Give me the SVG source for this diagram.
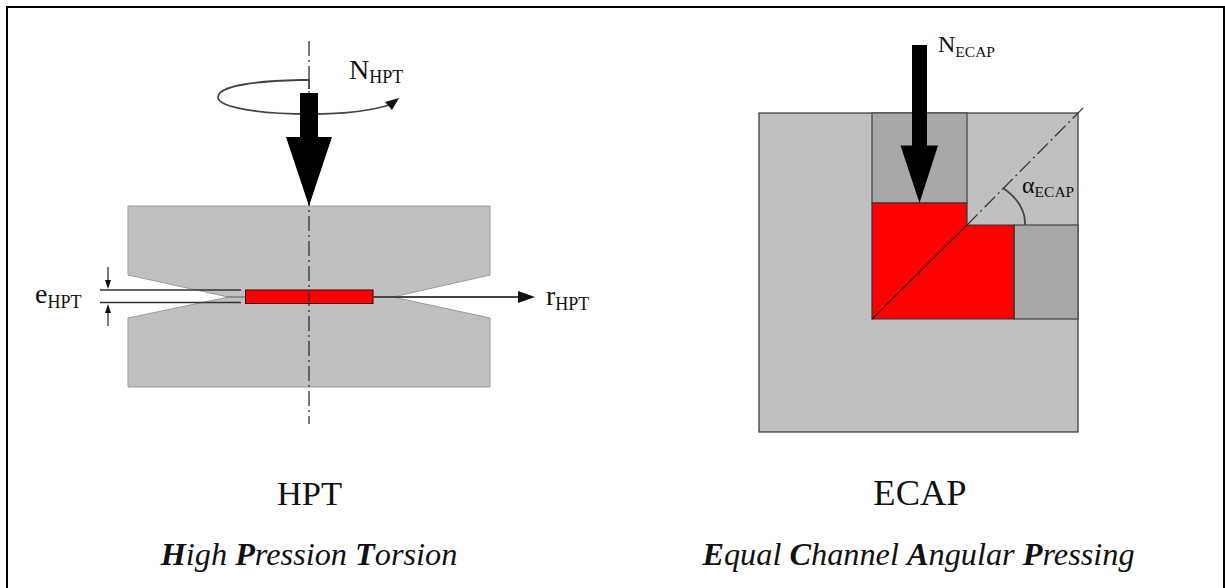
<svg xmlns="http://www.w3.org/2000/svg" width="1225" height="588" viewBox="0 0 1225 588">
<style>
text{font-family:"Liberation Serif","Times New Roman",serif;fill:#111}
.lab{font-size:24px}.sub{font-size:15.5px}
.lab2{font-size:28px}.sub2{font-size:18px}
.cap{font-size:34.5px;text-anchor:middle}
.cap2{font-size:36.5px;text-anchor:middle}
.ital{font-size:32.3px;font-style:italic;text-anchor:middle}
.ital tspan{font-weight:bold}
.die{fill:#c0c0c0;stroke:#9a9a9a;stroke-width:1}
.ln{fill:none;stroke:#333;stroke-width:1.3}
.thick{fill:none;stroke:#444;stroke-width:1.8}
.faint{fill:none;stroke:#888;stroke-width:1.3}
.dash{fill:none;stroke:#333;stroke-width:1.3;stroke-dasharray:15 4 2 4}
.gbox{fill:#a8a8a8;stroke:#444;stroke-width:1.2}
</style>
<rect width="1225" height="588" fill="#fff"/>
<rect x="7" y="7" width="1217" height="590" fill="none" stroke="#000" stroke-width="2"/>
<g id="hpt">
<path class="die" d="M128 206H490V275L395 296.500H226L128 275Z"/>
<path class="die" d="M128 387H490V318L395 297.500H226L128 318Z"/>
<path class="faint" d="M226 297H245"/>
<rect x="245.500" y="290" width="127.500" height="13.500" fill="#f00" stroke="#400" stroke-width="1"/>
<path class="dash" d="M309 41V424"/>
<path class="ln" d="M100 290H241M100 302.500H241"/>
<path class="ln" d="M108 267V283M108 310V326"/>
<path fill="#111" d="M105 280H111L108 289ZM105 313H111L108 304Z"/>
<path class="thick" d="M373 297H520"/>
<path fill="#111" d="M518 291L535 297L518 303Z"/>
<path class="thick" d="M309 89V80H300C255 81 218 86 218 97C218 108 262 114 310 114C345 114 375 110 392 104"/>
<path fill="#111" d="M385 102L399 98L392 110Z"/>
<path fill="#000" d="M300 93H318V137H332L309 206L286 137H300Z"/>
<text class="lab2" x="349" y="79">N<tspan class="sub2" dy="3.500">HPT</tspan></text>
<text class="lab2" x="35" y="303">e<tspan class="sub2" dy="5">HPT</tspan></text>
<text class="lab2" x="546" y="305">r<tspan class="sub2" dy="4.500">HPT</tspan></text>
<text class="cap" x="309.500" y="505">HPT</text>
<text class="ital" x="309" y="565"><tspan>H</tspan>igh <tspan>P</tspan>ression <tspan>T</tspan>orsion</text>
</g>
<g id="ecap">
<rect x="759" y="113" width="319" height="319" fill="#c0c0c0" stroke="#333" stroke-width="1.2"/>
<rect class="gbox" x="872" y="113" width="95" height="90"/>
<rect class="gbox" x="1014" y="225" width="64" height="94"/>
<path d="M872 203H967V225H1014V319H872Z" fill="#f00" stroke="#333" stroke-width="1.2"/>
<path d="M872 319L967 225" stroke="#500" stroke-width="1.3" fill="none"/>
<path class="dash" d="M967 225L1085 106"/>
<path class="thick" d="M1003 188Q1026 204 1025 225"/>
<path fill="#000" d="M912 45H927V145.500H938L919.500 203L900.500 145.500H912Z"/>
<text class="lab" x="938" y="52">N<tspan class="sub" dy="5">ECAP</tspan></text>
<text class="lab" x="1022" y="193">α<tspan class="sub" dy="4">ECAP</tspan></text>
<text class="cap2" x="920" y="505">ECAP</text>
<text class="ital" x="918.500" y="565"><tspan>E</tspan>qual <tspan>C</tspan>hannel <tspan>A</tspan>ngular <tspan>P</tspan>ressing</text>
</g>
</svg>
